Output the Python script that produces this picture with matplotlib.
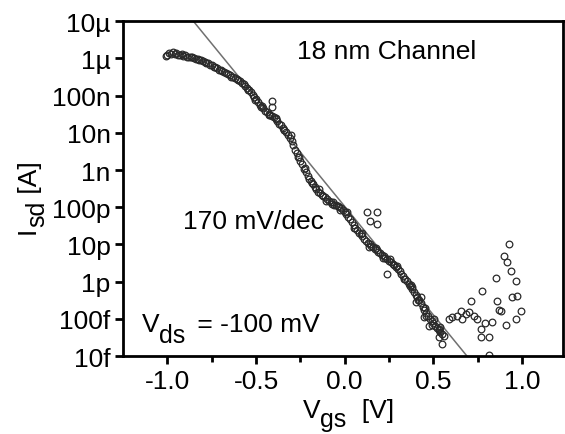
import numpy as np
import matplotlib
matplotlib.use("Agg")
import matplotlib.pyplot as plt
from matplotlib.text import Annotation

plt.rcParams['font.family'] = ['Liberation Sans', 'DejaVu Sans']

# measured transfer curve: gate voltage [V] and log10 of source-drain current [A]
vgs = [
    -1.01, -1.00, -0.99, -0.98, -0.97, -0.96, -0.95, -0.94, -0.93, -0.92,
    -0.91, -0.90, -0.89, -0.88, -0.87, -0.86, -0.85, -0.84, -0.83, -0.82,
    -0.81, -0.80, -0.79, -0.78, -0.77, -0.76, -0.75, -0.74, -0.73, -0.72,
    -0.71, -0.70, -0.69, -0.68, -0.67, -0.66, -0.65, -0.64, -0.63, -0.62,
    -0.61, -0.60, -0.59, -0.58, -0.57, -0.56, -0.55, -0.54, -0.53, -0.52,
    -0.51, -0.50, -0.49, -0.48, -0.47, -0.46, -0.45, -0.44, -0.43, -0.42,
    -0.41, -0.40, -0.39, -0.38, -0.37, -0.36, -0.35, -0.34, -0.33, -0.32,
    -0.31, -0.30, -0.29, -0.28, -0.27, -0.26, -0.25, -0.24, -0.23, -0.22,
    -0.21, -0.20, -0.19, -0.18, -0.17, -0.16, -0.15, -0.14, -0.13, -0.12,
    -0.11, -0.10, -0.09, -0.08, -0.07, -0.06, -0.05, -0.04, -0.03, -0.02,
    -0.01, 0.00, 0.01, 0.02, 0.03, 0.04, 0.05, 0.06, 0.07, 0.08,
    0.09, 0.10, 0.11, 0.12, 0.13, 0.14, 0.15, 0.16, 0.17, 0.18,
    0.19, 0.20, 0.21, 0.22, 0.23, 0.24, 0.25, 0.26, 0.27, 0.28,
    0.29, 0.30, 0.31, 0.32, 0.33, 0.34, 0.35, 0.36, 0.37, 0.38,
    0.39, 0.40, 0.41, 0.42, 0.43, 0.44, 0.45, 0.46, 0.47, 0.48,
    0.49, 0.50, 0.51, 0.52, 0.53, 0.54, 0.55, 0.56,
    # second pass, slightly off the first one
    -0.545, -0.505, -0.465, -0.425, -0.385, -0.345, -0.305, -0.265, -0.225,
    -0.185, -0.145, -0.105, -0.065, -0.025, 0.015, 0.055, 0.095, 0.135,
    0.175, 0.215, 0.255, 0.295, 0.335, 0.375, 0.415, 0.455, 0.495, 0.535,
    # scattered points off the main curve
    -0.41, -0.41, 0.124, 0.18, 0.14, 0.18, 0.236,
    0.38, 0.40, 0.43, 0.45,
    0.461, 0.478, 0.534, 0.534, 0.551, 0.506, 0.590, 0.607, 0.635, 0.657,
    0.685, 0.702, 0.730, 0.747, 0.663, 0.713, 0.775, 0.770, 0.770, 0.815,
    0.831, 0.854, 0.860, 0.882, 0.910, 0.899, 0.927, 0.916, 0.938, 0.966,
    0.944, 0.972, 0.966, 0.994, 0.815, 0.870, 0.790,
]
log_isd = [
    -5.93, -5.90, -5.86, -5.89, -5.84, -5.88, -5.86, -5.90, -5.92, -5.89,
    -5.94, -5.92, -5.96, -5.95, -5.97, -5.96, -6.00, -6.02, -6.01, -6.05,
    -6.04, -6.08, -6.10, -6.12, -6.13, -6.17, -6.19, -6.22, -6.24, -6.27,
    -6.30, -6.31, -6.35, -6.37, -6.40, -6.42, -6.45, -6.49, -6.50, -6.53,
    -6.56, -6.58, -6.62, -6.66, -6.70, -6.75, -6.80, -6.86, -6.90, -6.97,
    -7.05, -7.10, -7.17, -7.24, -7.30, -7.34, -7.40, -7.44, -7.50, -7.52,
    -7.55, -7.58, -7.62, -7.67, -7.75, -7.80, -7.86, -7.92, -7.98, -8.05,
    -8.15, -8.22, -8.32, -8.45, -8.55, -8.65, -8.75, -8.85, -8.97, -9.05,
    -9.15, -9.24, -9.30, -9.38, -9.45, -9.52, -9.58, -9.62, -9.66, -9.70,
    -9.73, -9.78, -9.82, -9.87, -9.90, -9.93, -9.95, -9.97, -10.00, -10.03,
    -10.08, -10.12, -10.18, -10.25, -10.32, -10.40, -10.48, -10.56, -10.62, -10.68,
    -10.73, -10.78, -10.84, -10.90, -10.95, -11.00, -11.05, -11.08, -11.12, -11.16,
    -11.20, -11.24, -11.27, -11.31, -11.35, -11.40, -11.44, -11.48, -11.52, -11.56,
    -11.60, -11.65, -11.70, -11.78, -11.85, -11.92, -11.98, -12.05, -12.12, -12.20,
    -12.28, -12.35, -12.42, -12.48, -12.58, -12.68, -12.75, -12.84, -12.92, -13.00,
    -13.05, -13.12, -13.18, -13.25, -13.30, -13.35, -13.40, -13.45,
    -6.86, -7.12, -7.27, -7.53, -7.60, -7.93, -8.05, -8.66, -8.95,
    -9.36, -9.52, -9.84, -9.85, -10.06, -10.12, -10.55, -10.70, -11.08,
    -11.10, -11.35, -11.40, -11.57, -11.93, -12.08, -12.50, -12.70, -13.15, -13.22,
    -7.15, -7.31, -10.13, -10.13, -10.38, -10.46, -11.80,
    -12.15, -12.55, -12.40, -12.95,
    -12.93, -13.20, -13.28, -13.49, -13.68, -13.01, -13.01, -12.96, -12.93, -12.80,
    -12.88, -12.82, -12.93, -13.01, -13.01, -12.53, -12.26, -13.28, -13.49, -13.49,
    -13.09, -11.91, -12.53, -12.80, -13.15, -11.32, -10.99, -11.48, -11.72, -11.99,
    -12.42, -12.39, -13.01, -12.80, -13.98, -12.75, -13.10,
]
isd = 10.0 ** np.array(log_isd)

# subthreshold slope guide line (170 mV/dec)
fit_v = [-0.854, 0.69]
fit_i = [1e-5, 1e-14]

ytick_vals = [1e-14, 1e-13, 1e-12, 1e-11, 1e-10, 1e-9, 1e-8, 1e-7, 1e-6, 1e-5]
ytick_labels = ["10f", "100f", "1p", "10p", "100p", "1n", "10n", "100n", "1\u00b5", "10\u00b5"]
xtick_vals = [-1.0, -0.5, 0.0, 0.5, 1.0]

fs = 19
sub_fs = 18


def sub_label(fig, x, y, base, sub, rest, drop=7.0, gap=0, rotation=0):
    # big, lowered subscripts like the original figure
    if rotation == 0:
        t0 = fig.text(x, y, base, fontsize=fs, ha="left", va="bottom")
        t1 = fig.add_artist(Annotation(
            sub, xy=(1, 0), xycoords=t0, xytext=(0, -drop),
            textcoords="offset points", fontsize=sub_fs, ha="left", va="bottom"))
        fig.add_artist(Annotation(
            rest, xy=(1, 0), xycoords=(t1, t0), xytext=(gap, 0),
            textcoords="offset points", fontsize=fs, ha="left", va="bottom"))
    else:
        t0 = fig.text(x, y, base, fontsize=fs, ha="right", va="bottom",
                      rotation=90)
        t1 = fig.add_artist(Annotation(
            sub, xy=(1, 1), xycoords=t0, xytext=(drop, 0),
            textcoords="offset points", fontsize=sub_fs, ha="right",
            va="bottom", rotation=90))
        fig.add_artist(Annotation(
            rest, xy=(1, 1), xycoords=(t0, t1), xytext=(2, gap),
            textcoords="offset points", fontsize=fs, ha="right",
            va="bottom", rotation=90))


fig = plt.figure(figsize=(5.65, 4.35), dpi=100)
ax = fig.add_axes([0.218, 0.179, 0.778, 0.770])

ax.plot(fit_v, fit_i, color="#707070", lw=1.1, zorder=1)
ax.plot(vgs, isd, ls="none", marker="o", ms=4.8, mfc="none", mec="#2a2a2a",
        mew=0.9, zorder=2)

ax.set_yscale("log")
ax.set_xlim(-1.25, 1.23)
ax.set_ylim(1e-14, 1e-5)
ax.set_yticks(ytick_vals)
ax.set_yticklabels(ytick_labels)
ax.yaxis.set_minor_locator(matplotlib.ticker.NullLocator())
ax.set_xticks(xtick_vals)
ax.set_xticklabels(["-1.0", "-0.5", "0.0", "0.5", "1.0"])
ax.set_xticks([-0.75, -0.25, 0.25, 0.75], minor=True)

for s in ax.spines.values():
    s.set_linewidth(2.0)
ax.tick_params(which="major", direction="out", length=6, width=2.0,
               labelsize=fs, pad=3)
ax.tick_params(which="minor", direction="out", length=4, width=2.0)

# axis labels with lowered subscripts
sub_label(fig, 0.536, 0.028, "V", "gs", "  [V]", drop=6.5)
sub_label(fig, 0.070, 0.462, "I", "sd", " [A]", rotation=90)

ax.text(0.60, 0.91, "18 nm Channel", transform=ax.transAxes, fontsize=fs,
        ha="center", va="center")
ax.text(0.135, 0.403, "170 mV/dec", transform=ax.transAxes, fontsize=fs,
        ha="left", va="center")
sub_label(fig, 0.251, 0.226, "V", "ds", " = -100 mV", drop=8, gap=3)

fig.savefig("out.png", dpi=100)
